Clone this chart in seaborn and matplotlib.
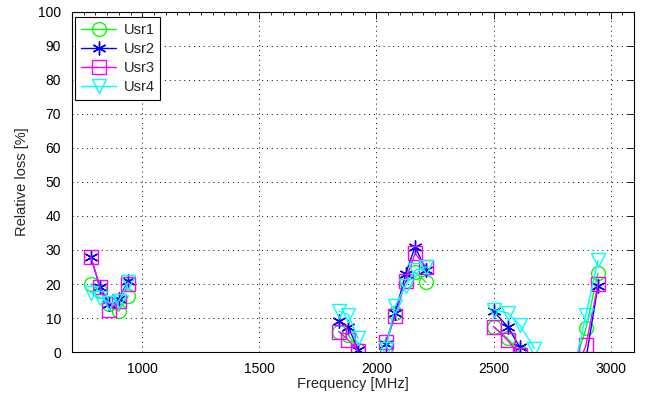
import numpy as np
import pandas as pd
import matplotlib
matplotlib.use("Agg")
import matplotlib.pyplot as plt
from matplotlib.lines import Line2D
from matplotlib.ticker import MultipleLocator
import seaborn as sns

# ---- data ----
users = ["Usr1", "Usr2", "Usr3", "Usr4"]
colors = ["#00FF00", "#0000FF", "#FF00FF", "#00FFFF"]
markers = ["o", (6, 2, 0), "s", "v"]

freq_b1 = [780, 820, 860, 900, 940]
freq_b2 = [1840, 1880, 1922]
freq_b3 = [2040, 2080, 2125, 2165, 2212]
freq_b4 = [2500, 2560, 2612, 2675]
freq_b5 = [2840, 2895, 2946]

usr1_b1 = [20.0, 18.0, 14.0, 12.0, 16.5]
usr2_b1 = [28.0, 19.0, 14.0, 15.5, 21.0]
usr3_b1 = [28.0, 19.0, 12.5, 15.0, 20.0]
usr4_b1 = [17.5, 16.0, 14.5, 15.0, 20.5]

usr1_b2 = [6.0, 5.0, 0.5]
usr2_b2 = [9.0, 7.5, 0.5]
usr3_b2 = [6.0, 3.5, 0.3]
usr4_b2 = [12.0, 11.0, 4.0]

usr1_b3 = [1.5, 11.5, 21.0, 23.5, 20.5]
usr2_b3 = [2.5, 11.5, 23.0, 31.0, 24.0]
usr3_b3 = [3.0, 10.5, 21.0, 29.0, 25.0]
usr4_b3 = [1.0, 13.5, 19.5, 24.0, 25.0]

usr1_b4 = [7.5, 4.0, 0.0, np.nan]
usr2_b4 = [12.0, 7.5, 1.5, np.nan]
usr3_b4 = [7.5, 3.5, -1.0, np.nan]
usr4_b4 = [12.5, 11.5, 8.0, 1.0]

usr1_b5 = [-5.0, 7.0, 23.2]
usr2_b5 = [-8.0, -2.0, 19.5]
usr3_b5 = [-8.0, 2.0, 20.0]
usr4_b5 = [-6.0, 11.0, 27.0]

bands = [
    (freq_b1, [usr1_b1, usr2_b1, usr3_b1, usr4_b1]),
    (freq_b2, [usr1_b2, usr2_b2, usr3_b2, usr4_b2]),
    (freq_b3, [usr1_b3, usr2_b3, usr3_b3, usr4_b3]),
    (freq_b4, [usr1_b4, usr2_b4, usr3_b4, usr4_b4]),
    (freq_b5, [usr1_b5, usr2_b5, usr3_b5, usr4_b5]),
]

sns.set_style("white")
plt.rcParams["font.family"] = ["Liberation Sans", "DejaVu Sans"]

fig = plt.figure(figsize=(6.46, 4.01), dpi=100)
ax = fig.add_axes([72 / 646, 1 - 352 / 401, (634 - 72) / 646, (352 - 12) / 401])

for bi, (freqs, series) in enumerate(bands):
    for ui, vals in enumerate(series):
        df = pd.DataFrame({"freq": freqs, "loss": vals}).dropna()
        sns.lineplot(data=df, x="freq", y="loss", ax=ax, color=colors[ui],
                     marker=markers[ui], markersize=10, mfc="none",
                     mec=colors[ui], mew=1.0, lw=1.0, sort=False,
                     estimator=None, legend=False)

ax.set_xlim(700, 3100)
ax.set_ylim(0, 100)
ax.set_xticks([1000, 1500, 2000, 2500, 3000])
ax.set_yticks(np.arange(0, 101, 10))
ax.xaxis.set_minor_locator(MultipleLocator(50))
ax.grid(True, which="major", color="black", linestyle=(0, (1, 4)), linewidth=0.7)
ax.tick_params(which="both", direction="in", top=True, right=True,
               labelsize=10, colors="black")
ax.tick_params(which="major", length=5, width=0.6)
ax.tick_params(which="minor", length=2.5, width=0.6)
ax.tick_params(axis="y", which="minor", left=False, right=False)
ax.tick_params(axis="x", which="major", pad=7)
ax.tick_params(axis="y", which="major", pad=8)
for s in ax.spines.values():
    s.set_color("black")
    s.set_linewidth(0.8)
ax.set_xlabel("Frequency [MHz]", fontsize=10.5, labelpad=1)
ax.set_ylabel("Relative loss [%]", fontsize=10.5, labelpad=6)

handles = [Line2D([0], [0], color=c, marker=m, markersize=10, mfc="none",
                  mec=c, lw=1.0) for c, m in zip(colors, markers)]
leg = ax.legend(handles, users, loc="upper left", bbox_to_anchor=(0.006, 0.985),
                borderaxespad=0, fontsize=10.5, handlelength=2.4,
                labelspacing=0.35, fancybox=False, framealpha=1,
                edgecolor="black", borderpad=0.4, handletextpad=0.5)
leg.get_frame().set_linewidth(0.8)

fig.savefig("out.png", dpi=100)
